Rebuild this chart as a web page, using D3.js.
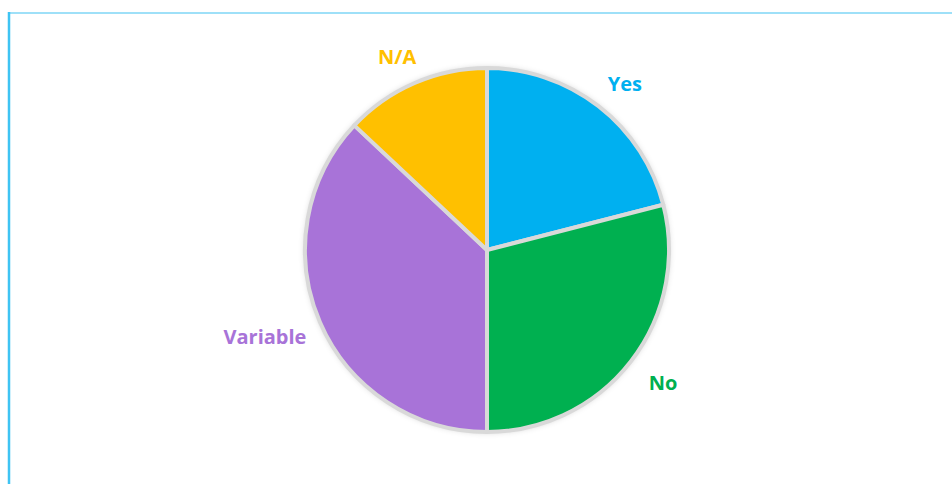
<!DOCTYPE html>
<html>
<head>
<meta charset="utf-8">
<script src="https://cdn.jsdelivr.net/npm/d3@7"></script>
<style>
  body { margin: 0; background: #fff; }
  svg { display: block; }
</style>
</head>
<body>
<div id="chart"></div>
<script>
// data
const categories = ['Yes', 'No', 'Variable', 'N/A'];
const shares = [21, 29, 37, 13];
const colours = ['#00b0f0', '#00b050', '#a873d8', '#ffc000'];

const width = 952;
const height = 484;
const cx = 487;
const cy = 250;
const radius = 182;

const svg = d3.select('#chart')
  .append('svg')
  .attr('width', width)
  .attr('height', height);

// frame lines (top and left only are visible)
svg.append('line')
  .attr('x1', 9).attr('x2', width)
  .attr('y1', 13).attr('y2', 13)
  .attr('stroke', '#9ee0f8')
  .attr('stroke-width', 2);
svg.append('line')
  .attr('x1', 9).attr('x2', 9)
  .attr('y1', 12).attr('y2', height)
  .attr('stroke', '#3fc4f3')
  .attr('stroke-width', 2.5);

// soft shadow
const defs = svg.append('defs');
const filter = defs.append('filter')
  .attr('id', 'shadow')
  .attr('x', '-10%').attr('y', '-10%')
  .attr('width', '120%').attr('height', '120%');
filter.append('feDropShadow')
  .attr('dx', 0).attr('dy', 0)
  .attr('stdDeviation', 3)
  .attr('flood-color', '#000')
  .attr('flood-opacity', 0.22);

const colour = d3.scaleOrdinal()
  .domain(categories)
  .range(colours);

const pie = d3.pie()
  .sort(null)
  .value(d => d.value);

const arcs = pie(categories.map((c, i) => ({ label: c, value: shares[i] })));

const arc = d3.arc()
  .innerRadius(0)
  .outerRadius(radius);

const g = svg.append('g')
  .attr('transform', `translate(${cx}, ${cy})`);

g.append('circle')
  .attr('r', radius)
  .attr('fill', '#d9d9d9')
  .attr('filter', 'url(#shadow)');

g.selectAll('.slice')
  .data(arcs)
  .enter()
  .append('path')
  .attr('class', 'slice')
  .attr('d', arc)
  .attr('fill', d => colour(d.data.label))
  .attr('stroke', '#d9d9d9')
  .attr('stroke-width', 4)
  .attr('stroke-linejoin', 'round');

// labels sit outside the pie, pushed out by their own width
const labelArc = d3.arc()
  .innerRadius(radius * 1.17)
  .outerRadius(radius * 1.17);

const labels = g.selectAll('.label')
  .data(arcs)
  .enter()
  .append('text')
  .attr('class', 'label')
  .attr('text-anchor', 'middle')
  .attr('dominant-baseline', 'central')
  .attr('fill', d => colour(d.data.label))
  .style('font-family', 'Open Sans, sans-serif')
  .style('font-weight', 'bold')
  .style('font-size', '20px')
  .text(d => d.data.label);

labels.attr('transform', function (d) {
  const [x, y] = labelArc.centroid(d);
  const w = this.getComputedTextLength();
  const mid = (d.startAngle + d.endAngle) / 2;
  return `translate(${x + 0.7 * (w / 2) * Math.sin(mid)}, ${y + 2})`;
});
</script>
</body>
</html>
